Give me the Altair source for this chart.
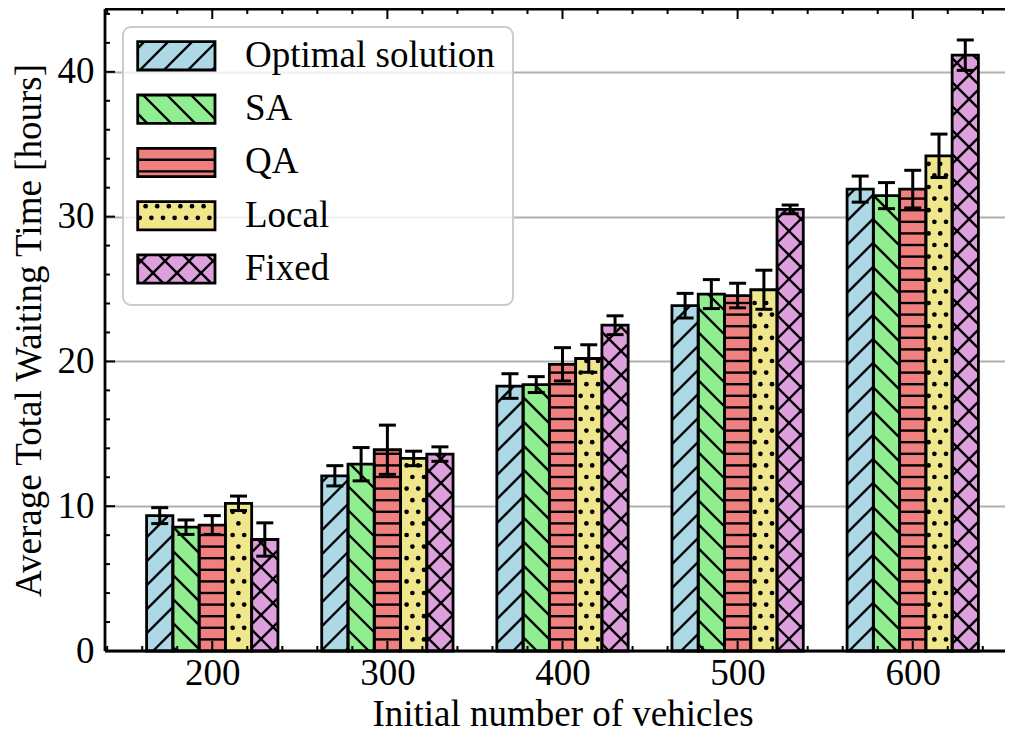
import math
import altair as alt
import numpy as np
import pandas as pd

groups = [200, 300, 400, 500, 600]
series = ["Optimal solution", "SA", "QA", "Local", "Fixed"]
optimal = [9.35, 12.1, 18.3, 23.85, 31.9]
optimal_err = [0.55, 0.7, 0.85, 0.85, 0.9]
sa = [8.55, 12.9, 18.4, 24.65, 31.45]
sa_err = [0.5, 1.15, 0.55, 1.0, 0.9]
qa = [8.7, 13.9, 19.8, 24.55, 31.9]
qa_err = [0.65, 1.7, 1.15, 0.85, 1.3]
local = [10.2, 13.3, 20.2, 24.95, 34.2]
local_err = [0.5, 0.5, 0.95, 1.35, 1.5]
fixed = [7.7, 13.6, 22.5, 30.5, 41.15]
fixed_err = [1.15, 0.5, 0.65, 0.3, 1.05]
colors = ["#ADD8E6", "#90EE90", "#F08080", "#F0E68C", "#DDA0DD"]
hatches = ["/", "\\", "-", ".", "x"]
y_major = [0, 10, 20, 30, 40]
y_minor = [v for v in range(2, 45, 2) if v % 10 != 0]
x_minor = [v for v in range(140, 661, 20) if v % 100 != 0]

values = [optimal, sa, qa, local, fixed]
errors = [optimal_err, sa_err, qa_err, local_err, fixed_err]

W, H = 915, 642
XMIN, XMAX = 138.75, 661.25
YMIN, YMAX = 0.0, 44.34
BAR_W = 15.0
KX = W / (XMAX - XMIN)
KY = H / (YMAX - YMIN)
FONT = "Liberation Serif"
FS = 37
LW = 2.8
HATCH_LW = 2.4
ERR_LW = 3.0
S_DIAG, S_FINE = 24.0, 11.6
X_TITLE = "Initial number of vehicles"
Y_TITLE = "Average Total Waiting Time [hours]"


def hatch_geometry(kind, X0, X1, Y0, Y1):
    segs, dots = [], []
    if kind in ("/", "x"):
        for k in range(math.floor((Y0 - X1) / S_DIAG), math.ceil((Y1 - X0) / S_DIAG) + 1):
            c = k * S_DIAG
            xa, xb = max(X0, Y0 - c), min(X1, Y1 - c)
            if xb - xa > 0.3:
                segs.append((xa, xa + c, xb, xb + c))
    if kind in ("\\", "x"):
        for k in range(math.floor((X0 + Y0) / S_DIAG), math.ceil((X1 + Y1) / S_DIAG) + 1):
            c = k * S_DIAG
            xa, xb = max(X0, c - Y1), min(X1, c - Y0)
            if xb - xa > 0.3:
                segs.append((xa, c - xa, xb, c - xb))
    if kind == "-":
        for k in range(math.ceil(Y0 / S_FINE), math.floor(Y1 / S_FINE) + 1):
            y = k * S_FINE
            if Y0 + 1 < y < Y1 - 1:
                segs.append((X0, y, X1, y))
    if kind == ".":
        for k in range(math.floor(Y0 / S_FINE), math.ceil(Y1 / S_FINE) + 1):
            y = k * S_FINE
            off = (k % 2) * S_FINE / 2
            for m in range(math.floor((X0 - off) / S_FINE), math.ceil((X1 - off) / S_FINE) + 1):
                x = m * S_FINE + off
                if X0 + 2 < x < X1 - 2 and Y0 + 2 < y < Y1 - 2:
                    dots.append((x, y))
    return segs, dots


bar_rows, seg_rows, dot_rows, err_rows = [], [], [], []
for i, name in enumerate(series):
    for g, v, e in zip(groups, values[i], errors[i]):
        cx = g + (i - 2) * BAR_W
        x0, x1 = cx - BAR_W / 2, cx + BAR_W / 2
        bar_rows.append(dict(series=name, x0=x0, x1=x1, base=0.0, value=v, color=colors[i]))
        err_rows.append(dict(cx=cx, lo=v - e, hi=v + e,
                             ca=cx - 8.5 / KX, cb=cx + 8.5 / KX))
        segs, dots = hatch_geometry(hatches[i], (x0 - XMIN) * KX, (x1 - XMIN) * KX, 0.0, v * KY)
        for (xa, ya, xb, yb) in segs:
            seg_rows.append(dict(xa=xa / KX + XMIN, ya=ya / KY, xb=xb / KX + XMIN, yb=yb / KY))
        for (x, y) in dots:
            dot_rows.append(dict(x=x / KX + XMIN, y=y / KY))

bars_df = pd.DataFrame(bar_rows)
seg_df = pd.DataFrame(seg_rows)
dot_df = pd.DataFrame(dot_rows)
err_df = pd.DataFrame(err_rows)

xs = alt.Scale(domain=[XMIN, XMAX], nice=False, zero=False)
ys = alt.Scale(domain=[YMIN, YMAX], nice=False, zero=False)

x_axis = alt.Axis(values=groups, ticks=False, domain=False, grid=False, labelPadding=4,
                  titlePadding=5, format="d", title=X_TITLE)
y_axis = alt.Axis(values=y_major, ticks=False, domain=False, grid=True, gridColor="#b0b0b0",
                  gridWidth=2, labelPadding=11, titlePadding=9, format="d", title=Y_TITLE)


def X(field):
    return alt.X(field, scale=xs, axis=x_axis)


def Y(field):
    return alt.Y(field, scale=ys, axis=y_axis)


bars = alt.Chart(bars_df).mark_rect(strokeWidth=0).encode(
    x=X("x0:Q"), x2="x1:Q", y=Y("base:Q"), y2="value:Q",
    fill=alt.Fill("color:N", scale=None),
)
hatch = alt.Chart(seg_df).mark_rule(color="black", strokeWidth=HATCH_LW).encode(
    x=X("xa:Q"), x2="xb:Q", y=Y("ya:Q"), y2="yb:Q",
)
dots = alt.Chart(dot_df).mark_circle(color="black", opacity=1, size=22).encode(
    x=X("x:Q"), y=Y("y:Q"),
)
outline = alt.Chart(bars_df).mark_rect(fillOpacity=0, stroke="black", strokeWidth=LW).encode(
    x=X("x0:Q"), x2="x1:Q", y=Y("base:Q"), y2="value:Q",
)
err_line = alt.Chart(err_df).mark_rule(color="black", strokeWidth=ERR_LW).encode(
    x=X("cx:Q"), y=Y("lo:Q"), y2="hi:Q",
)
cap_lo = alt.Chart(err_df).mark_rule(color="black", strokeWidth=ERR_LW).encode(
    x=X("ca:Q"), x2="cb:Q", y=Y("lo:Q"),
)
cap_hi = alt.Chart(err_df).mark_rule(color="black", strokeWidth=ERR_LW).encode(
    x=X("ca:Q"), x2="cb:Q", y=Y("hi:Q"),
)

xmaj_df = pd.DataFrame({"v": groups})
xmin_df = pd.DataFrame({"v": x_minor})
ymaj_df = pd.DataFrame({"v": y_major})
ymin_df = pd.DataFrame({"v": y_minor})
tick_layers = []
for df, L in ((xmaj_df, 10), (xmin_df, 5)):
    tick_layers.append(alt.Chart(df).mark_rule(color="black", strokeWidth=2).encode(
        x=X("v:Q"), y=alt.value(H), y2=alt.value(H - L)))
    tick_layers.append(alt.Chart(df).mark_rule(color="black", strokeWidth=2).encode(
        x=X("v:Q"), y=alt.value(0), y2=alt.value(L)))
for df, L in ((ymaj_df, 10), (ymin_df, 5)):
    tick_layers.append(alt.Chart(df).mark_rule(color="black", strokeWidth=2).encode(
        y=Y("v:Q"), x=alt.value(0), x2=alt.value(L)))

one = pd.DataFrame({"a": [0]})
spines = [
    alt.Chart(one).mark_rule(color="black", strokeWidth=LW).encode(
        x=alt.value(0), x2=alt.value(W), y=alt.value(H)),
    alt.Chart(one).mark_rule(color="black", strokeWidth=LW).encode(
        x=alt.value(0), x2=alt.value(W), y=alt.value(0)),
    alt.Chart(one).mark_rule(color="black", strokeWidth=LW).encode(
        x=alt.value(0), y=alt.value(0), y2=alt.value(H)),
]

LG_X0, LG_X1, LG_Y0, LG_Y1 = 18, 408, 18, 296
P_X0, P_X1, P_H = 32.7, 110.0, 28.3
P_TOP0, P_STEP = 32.7, 53.3
TXT_X = 140

leg_rows, leg_seg, leg_dot = [], [], []
for i, name in enumerate(series):
    top = P_TOP0 + i * P_STEP
    bot = top + P_H
    leg_rows.append(dict(label=name, px0=P_X0, px1=P_X1, py0=top, py1=bot,
                         tx=TXT_X, ty=(top + bot) / 2, color=colors[i]))
    segs, dts = hatch_geometry(hatches[i], P_X0, P_X1, -bot, -top)
    for (xa, ya, xb, yb) in segs:
        leg_seg.append(dict(xa=xa, ya=-ya, xb=xb, yb=-yb))
    for (x, y) in dts:
        leg_dot.append(dict(x=x, y=-y))
leg_df = pd.DataFrame(leg_rows)
leg_seg_df = pd.DataFrame(leg_seg)
leg_dot_df = pd.DataFrame(leg_dot)

leg_bg = alt.Chart(one).mark_rect(
    cornerRadius=8, fill="white", fillOpacity=0.8, stroke="#cccccc", strokeWidth=2
).encode(x=alt.value(LG_X0), x2=alt.value(LG_X1), y=alt.value(LG_Y0), y2=alt.value(LG_Y1))
leg_fill = alt.Chart(leg_df).mark_rect(strokeWidth=0).encode(
    x=alt.X("px0:Q", scale=None), x2="px1:Q",
    y=alt.Y("py0:Q", scale=None), y2="py1:Q",
    fill=alt.Fill("color:N", scale=None),
)
leg_hatch = alt.Chart(leg_seg_df).mark_rule(color="black", strokeWidth=HATCH_LW).encode(
    x=alt.X("xa:Q", scale=None), x2="xb:Q",
    y=alt.Y("ya:Q", scale=None), y2="yb:Q",
)
leg_dots = alt.Chart(leg_dot_df).mark_circle(color="black", opacity=1, size=22).encode(
    x=alt.X("x:Q", scale=None), y=alt.Y("y:Q", scale=None),
)
leg_outline = alt.Chart(leg_df).mark_rect(fillOpacity=0, stroke="black", strokeWidth=LW).encode(
    x=alt.X("px0:Q", scale=None), x2="px1:Q",
    y=alt.Y("py0:Q", scale=None), y2="py1:Q",
)
leg_text = alt.Chart(leg_df).mark_text(
    align="left", baseline="middle", font=FONT, fontSize=FS, color="black"
).encode(x=alt.X("tx:Q", scale=None), y=alt.Y("ty:Q", scale=None), text="label:N")

chart = alt.layer(
    bars, hatch, dots, outline, err_line, cap_lo, cap_hi, *tick_layers, *spines,
    leg_bg, leg_fill, leg_hatch, leg_dots, leg_outline, leg_text,
).properties(
    width=W, height=H,
    padding={"left": 97, "top": 1, "right": -15, "bottom": 80},
    autosize="none",
).configure(font=FONT).configure_view(
    strokeWidth=0
).configure_axis(
    labelFont=FONT, labelFontSize=FS, labelColor="black",
    titleFont=FONT, titleFontSize=FS, titleColor="black", titleFontWeight="normal",
)

chart.save("out.html", embed_options={"renderer": "svg", "actions": False})
